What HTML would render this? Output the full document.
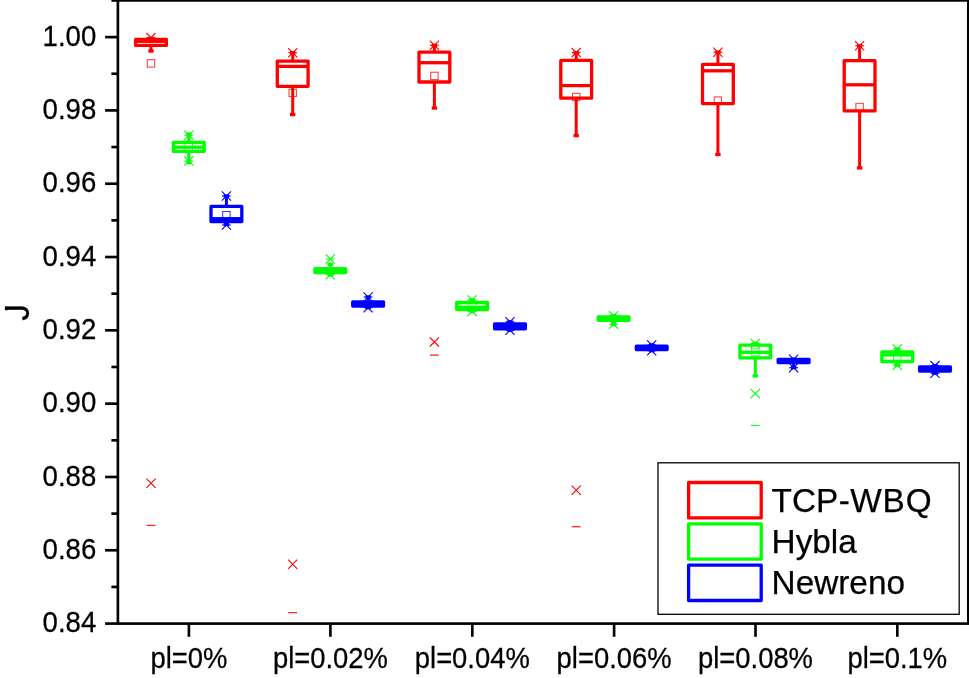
<!DOCTYPE html>
<html lang="en"><head><meta charset="utf-8"><title>J vs packet loss</title>
<style>html,body{margin:0;padding:0;background:#fff;}body{width:969px;height:678px;overflow:hidden;}svg{display:block;}text{stroke:#000;stroke-width:0.25px;font-family:"Liberation Sans",Arial,Helvetica,sans-serif;fill:#000;font-kerning:none;font-feature-settings:"kern" 0;}</style></head><body>
<svg width="969" height="678" viewBox="0 0 969 678">
<rect width="969" height="678" fill="#fff"/>
<g stroke="#ff0000" fill="none">
<line x1="151.0" y1="37.5" x2="151.0" y2="39.4" stroke-width="3"/>
<line x1="151.0" y1="45.4" x2="151.0" y2="51.0" stroke-width="3"/>
<line x1="148.3" y1="51.0" x2="153.7" y2="51.0" stroke-width="3.3"/>
<rect x="135.6" y="39.4" width="30.8" height="6.0" stroke-width="3.3" stroke-linejoin="round"/>
<line x1="135.6" y1="41.3" x2="166.4" y2="41.3" stroke-width="3.3"/>
<path d="M146.4 33.0L155.6 42.2M146.4 42.2L155.6 33.0" stroke-width="1.1"/>
<line x1="146.6" y1="37.5" x2="155.4" y2="37.5" stroke-width="1.1"/>
<path d="M146.4 478.7L155.6 487.9M146.4 487.9L155.6 478.7" stroke-width="1.1"/>
<line x1="146.6" y1="525.3" x2="155.4" y2="525.3" stroke-width="1.1"/>
<rect x="147.3" y="59.7" width="7.4" height="7.4" stroke-width="1" stroke-opacity="0.8"/>
</g>
<g stroke="#00ff00" fill="none">
<line x1="188.8" y1="134.0" x2="188.8" y2="142.3" stroke-width="3"/>
<line x1="186.10000000000002" y1="134.0" x2="191.5" y2="134.0" stroke-width="3.3"/>
<line x1="188.8" y1="151.4" x2="188.8" y2="162.5" stroke-width="3"/>
<line x1="186.10000000000002" y1="162.5" x2="191.5" y2="162.5" stroke-width="3.3"/>
<rect x="173.4" y="142.3" width="30.8" height="9.1" stroke-width="3.3" stroke-linejoin="round"/>
<line x1="173.4" y1="147.2" x2="204.2" y2="147.2" stroke-width="3.3"/>
<path d="M184.2 130.6L193.4 139.8M184.2 139.8L193.4 130.6" stroke-width="1.1"/>
<path d="M184.2 156.4L193.4 165.6M184.2 165.6L193.4 156.4" stroke-width="1.1"/>
<line x1="184.4" y1="135.2" x2="193.2" y2="135.2" stroke-width="1.1"/>
<line x1="184.4" y1="161" x2="193.2" y2="161" stroke-width="1.1"/>
<rect x="185.1" y="143.3" width="7.4" height="7.4" stroke-width="1" stroke-opacity="0.8"/>
</g>
<g stroke="#0000ff" fill="none">
<line x1="226.4" y1="196.0" x2="226.4" y2="206.4" stroke-width="3"/>
<line x1="223.70000000000002" y1="196.0" x2="229.1" y2="196.0" stroke-width="3.3"/>
<line x1="226.4" y1="221.5" x2="226.4" y2="224.5" stroke-width="3"/>
<line x1="223.70000000000002" y1="224.5" x2="229.1" y2="224.5" stroke-width="3.3"/>
<rect x="211.0" y="206.4" width="30.8" height="15.1" stroke-width="3.3" stroke-linejoin="round"/>
<line x1="211.0" y1="218.7" x2="241.8" y2="218.7" stroke-width="3.3"/>
<path d="M221.8 191.4L231.0 200.6M221.8 200.6L231.0 191.4" stroke-width="1.1"/>
<path d="M221.8 220.4L231.0 229.6M221.8 229.6L231.0 220.4" stroke-width="1.1"/>
<line x1="222.0" y1="196" x2="230.8" y2="196" stroke-width="1.1"/>
<line x1="222.0" y1="225" x2="230.8" y2="225" stroke-width="1.1"/>
<rect x="222.7" y="211.5" width="7.4" height="7.4" stroke-width="1" stroke-opacity="0.8"/>
</g>
<g stroke="#ff0000" fill="none">
<line x1="292.7" y1="52.7" x2="292.7" y2="61.1" stroke-width="3"/>
<line x1="290.0" y1="52.7" x2="295.4" y2="52.7" stroke-width="3.3"/>
<line x1="292.7" y1="86.3" x2="292.7" y2="114.5" stroke-width="3"/>
<line x1="290.0" y1="114.5" x2="295.4" y2="114.5" stroke-width="3.3"/>
<rect x="277.3" y="61.1" width="30.8" height="25.2" stroke-width="3.3" stroke-linejoin="round"/>
<line x1="277.3" y1="66.4" x2="308.1" y2="66.4" stroke-width="3.3"/>
<path d="M288.1 48.1L297.3 57.3M288.1 57.3L297.3 48.1" stroke-width="1.1"/>
<line x1="288.3" y1="52.7" x2="297.1" y2="52.7" stroke-width="1.1"/>
<path d="M288.1 559.7L297.3 568.9M288.1 568.9L297.3 559.7" stroke-width="1.1"/>
<line x1="288.3" y1="612.7" x2="297.1" y2="612.7" stroke-width="1.1"/>
<rect x="289.0" y="89.2" width="7.4" height="7.4" stroke-width="1" stroke-opacity="0.8"/>
</g>
<g stroke="#00ff00" fill="none">
<line x1="330.3" y1="264.3" x2="330.3" y2="268.7" stroke-width="3"/>
<line x1="327.6" y1="264.3" x2="333.0" y2="264.3" stroke-width="3.3"/>
<line x1="330.3" y1="272.6" x2="330.3" y2="275.0" stroke-width="3"/>
<line x1="327.6" y1="275.0" x2="333.0" y2="275.0" stroke-width="3.3"/>
<rect x="314.9" y="268.7" width="30.8" height="3.9" stroke-width="3.3" stroke-linejoin="round"/>
<line x1="314.9" y1="270.6" x2="345.7" y2="270.6" stroke-width="3.3"/>
<path d="M325.7 254.4L334.9 263.6M325.7 263.6L334.9 254.4" stroke-width="1.1"/>
<path d="M325.7 270.1L334.9 279.3M325.7 279.3L334.9 270.1" stroke-width="1.1"/>
<line x1="325.9" y1="259" x2="334.7" y2="259" stroke-width="1.1"/>
<line x1="325.9" y1="274.7" x2="334.7" y2="274.7" stroke-width="1.1"/>
</g>
<g stroke="#0000ff" fill="none">
<line x1="368.1" y1="297.0" x2="368.1" y2="301.9" stroke-width="3"/>
<line x1="365.40000000000003" y1="297.0" x2="370.8" y2="297.0" stroke-width="3.3"/>
<line x1="368.1" y1="306.1" x2="368.1" y2="307.7" stroke-width="3"/>
<line x1="365.40000000000003" y1="307.7" x2="370.8" y2="307.7" stroke-width="3.3"/>
<rect x="352.7" y="301.9" width="30.8" height="4.2" stroke-width="3.3" stroke-linejoin="round"/>
<line x1="352.7" y1="304.0" x2="383.5" y2="304.0" stroke-width="3.3"/>
<path d="M363.5 292.4L372.7 301.6M363.5 301.6L372.7 292.4" stroke-width="1.1"/>
<path d="M363.5 303.1L372.7 312.3M363.5 312.3L372.7 303.1" stroke-width="1.1"/>
<line x1="363.7" y1="297" x2="372.5" y2="297" stroke-width="1.1"/>
<line x1="363.7" y1="307.7" x2="372.5" y2="307.7" stroke-width="1.1"/>
</g>
<g stroke="#ff0000" fill="none">
<line x1="434.4" y1="45.3" x2="434.4" y2="52.2" stroke-width="3"/>
<line x1="431.7" y1="45.3" x2="437.09999999999997" y2="45.3" stroke-width="3.3"/>
<line x1="434.4" y1="82.0" x2="434.4" y2="108.0" stroke-width="3"/>
<line x1="431.7" y1="108.0" x2="437.09999999999997" y2="108.0" stroke-width="3.3"/>
<rect x="419.0" y="52.2" width="30.8" height="29.8" stroke-width="3.3" stroke-linejoin="round"/>
<line x1="419.0" y1="62.7" x2="449.8" y2="62.7" stroke-width="3.3"/>
<path d="M429.8 40.7L439.0 49.9M429.8 49.9L439.0 40.7" stroke-width="1.1"/>
<line x1="430.0" y1="45.3" x2="438.8" y2="45.3" stroke-width="1.1"/>
<path d="M429.8 337.3L439.0 346.5M429.8 346.5L439.0 337.3" stroke-width="1.1"/>
<line x1="430.0" y1="355.1" x2="438.8" y2="355.1" stroke-width="1.1"/>
<rect x="430.7" y="72.2" width="7.4" height="7.4" stroke-width="1" stroke-opacity="0.8"/>
</g>
<g stroke="#00ff00" fill="none">
<line x1="472.1" y1="299.9" x2="472.1" y2="302.5" stroke-width="3"/>
<line x1="469.40000000000003" y1="299.9" x2="474.8" y2="299.9" stroke-width="3.3"/>
<line x1="472.1" y1="309.6" x2="472.1" y2="311.4" stroke-width="3"/>
<line x1="469.40000000000003" y1="311.4" x2="474.8" y2="311.4" stroke-width="3.3"/>
<rect x="456.7" y="302.5" width="30.8" height="7.1" stroke-width="3.3" stroke-linejoin="round"/>
<line x1="456.7" y1="307.2" x2="487.5" y2="307.2" stroke-width="3.3"/>
<path d="M467.5 295.3L476.7 304.5M467.5 304.5L476.7 295.3" stroke-width="1.1"/>
<path d="M467.5 306.8L476.7 316.0M467.5 316.0L476.7 306.8" stroke-width="1.1"/>
<line x1="467.7" y1="299.9" x2="476.5" y2="299.9" stroke-width="1.1"/>
<line x1="467.7" y1="311.4" x2="476.5" y2="311.4" stroke-width="1.1"/>
</g>
<g stroke="#0000ff" fill="none">
<line x1="510.0" y1="321.8" x2="510.0" y2="323.8" stroke-width="3"/>
<line x1="507.3" y1="321.8" x2="512.7" y2="321.8" stroke-width="3.3"/>
<line x1="510.0" y1="328.8" x2="510.0" y2="330.2" stroke-width="3"/>
<line x1="507.3" y1="330.2" x2="512.7" y2="330.2" stroke-width="3.3"/>
<rect x="494.6" y="323.8" width="30.8" height="5.0" stroke-width="3.3" stroke-linejoin="round"/>
<line x1="494.6" y1="326.3" x2="525.4" y2="326.3" stroke-width="3.3"/>
<path d="M505.4 317.2L514.6 326.4M505.4 326.4L514.6 317.2" stroke-width="1.1"/>
<path d="M505.4 325.6L514.6 334.8M505.4 334.8L514.6 325.6" stroke-width="1.1"/>
<line x1="505.6" y1="321.8" x2="514.4" y2="321.8" stroke-width="1.1"/>
<line x1="505.6" y1="330.2" x2="514.4" y2="330.2" stroke-width="1.1"/>
</g>
<g stroke="#ff0000" fill="none">
<line x1="576.2" y1="52.6" x2="576.2" y2="60.4" stroke-width="3"/>
<line x1="573.5" y1="52.6" x2="578.9000000000001" y2="52.6" stroke-width="3.3"/>
<line x1="576.2" y1="98.2" x2="576.2" y2="135.6" stroke-width="3"/>
<line x1="573.5" y1="135.6" x2="578.9000000000001" y2="135.6" stroke-width="3.3"/>
<rect x="560.8" y="60.4" width="30.8" height="37.8" stroke-width="3.3" stroke-linejoin="round"/>
<line x1="560.8" y1="85.6" x2="591.6" y2="85.6" stroke-width="3.3"/>
<path d="M571.6 48.0L580.8 57.2M571.6 57.2L580.8 48.0" stroke-width="1.1"/>
<line x1="571.8" y1="52.6" x2="580.6" y2="52.6" stroke-width="1.1"/>
<path d="M571.6 485.6L580.8 494.8M571.6 494.8L580.8 485.6" stroke-width="1.1"/>
<line x1="571.8" y1="526.8" x2="580.6" y2="526.8" stroke-width="1.1"/>
<rect x="572.5" y="93.3" width="7.4" height="7.4" stroke-width="1" stroke-opacity="0.8"/>
</g>
<g stroke="#00ff00" fill="none">
<line x1="613.6" y1="315.7" x2="613.6" y2="316.8" stroke-width="3"/>
<line x1="610.9" y1="315.7" x2="616.3000000000001" y2="315.7" stroke-width="3.3"/>
<line x1="613.6" y1="320.3" x2="613.6" y2="324.3" stroke-width="3"/>
<line x1="610.9" y1="324.3" x2="616.3000000000001" y2="324.3" stroke-width="3.3"/>
<rect x="598.2" y="316.8" width="30.8" height="3.5" stroke-width="3.3" stroke-linejoin="round"/>
<line x1="598.2" y1="318.5" x2="629.0" y2="318.5" stroke-width="3.3"/>
<path d="M609.0 311.1L618.2 320.3M609.0 320.3L618.2 311.1" stroke-width="1.1"/>
<path d="M609.0 319.7L618.2 328.9M609.0 328.9L618.2 319.7" stroke-width="1.1"/>
<line x1="609.2" y1="315.7" x2="618.0" y2="315.7" stroke-width="1.1"/>
<line x1="609.2" y1="324.3" x2="618.0" y2="324.3" stroke-width="1.1"/>
</g>
<g stroke="#0000ff" fill="none">
<line x1="651.7" y1="344.9" x2="651.7" y2="346.1" stroke-width="3"/>
<line x1="649.0" y1="344.9" x2="654.4000000000001" y2="344.9" stroke-width="3.3"/>
<line x1="651.7" y1="349.5" x2="651.7" y2="350.7" stroke-width="3"/>
<line x1="649.0" y1="350.7" x2="654.4000000000001" y2="350.7" stroke-width="3.3"/>
<rect x="636.3" y="346.1" width="30.8" height="3.4" stroke-width="3.3" stroke-linejoin="round"/>
<line x1="636.3" y1="347.8" x2="667.1" y2="347.8" stroke-width="3.3"/>
<path d="M647.1 340.3L656.3 349.5M647.1 349.5L656.3 340.3" stroke-width="1.1"/>
<path d="M647.1 346.1L656.3 355.3M647.1 355.3L656.3 346.1" stroke-width="1.1"/>
<line x1="647.3" y1="344.9" x2="656.1" y2="344.9" stroke-width="1.1"/>
<line x1="647.3" y1="350.7" x2="656.1" y2="350.7" stroke-width="1.1"/>
</g>
<g stroke="#ff0000" fill="none">
<line x1="717.9" y1="52.2" x2="717.9" y2="64.4" stroke-width="3"/>
<line x1="715.1999999999999" y1="52.2" x2="720.6" y2="52.2" stroke-width="3.3"/>
<line x1="717.9" y1="103.6" x2="717.9" y2="154.5" stroke-width="3"/>
<line x1="715.1999999999999" y1="154.5" x2="720.6" y2="154.5" stroke-width="3.3"/>
<rect x="702.5" y="64.4" width="30.8" height="39.2" stroke-width="3.3" stroke-linejoin="round"/>
<line x1="702.5" y1="70.8" x2="733.3" y2="70.8" stroke-width="3.3"/>
<path d="M713.3 47.6L722.5 56.8M713.3 56.8L722.5 47.6" stroke-width="1.1"/>
<line x1="713.5" y1="52.2" x2="722.3" y2="52.2" stroke-width="1.1"/>
<rect x="714.2" y="96.9" width="7.4" height="7.4" stroke-width="1" stroke-opacity="0.8"/>
</g>
<g stroke="#00ff00" fill="none">
<line x1="755.3" y1="343.5" x2="755.3" y2="345.1" stroke-width="3"/>
<line x1="752.5999999999999" y1="343.5" x2="758.0" y2="343.5" stroke-width="3.3"/>
<line x1="755.3" y1="357.8" x2="755.3" y2="375.9" stroke-width="3"/>
<line x1="752.5999999999999" y1="375.9" x2="758.0" y2="375.9" stroke-width="3.3"/>
<rect x="739.9" y="345.1" width="30.8" height="12.7" stroke-width="3.3" stroke-linejoin="round"/>
<line x1="739.9" y1="352.3" x2="770.7" y2="352.3" stroke-width="3.3"/>
<path d="M750.7 338.9L759.9 348.1M750.7 348.1L759.9 338.9" stroke-width="1.1"/>
<line x1="750.9" y1="343.5" x2="759.7" y2="343.5" stroke-width="1.1"/>
<path d="M750.7 388.9L759.9 398.1M750.7 398.1L759.9 388.9" stroke-width="1.1"/>
<line x1="750.9" y1="425.4" x2="759.7" y2="425.4" stroke-width="1.1"/>
<rect x="751.6" y="348.3" width="7.4" height="7.4" stroke-width="1" stroke-opacity="0.8"/>
</g>
<g stroke="#0000ff" fill="none">
<line x1="793.6" y1="359.2" x2="793.6" y2="359.4" stroke-width="3"/>
<line x1="790.9" y1="359.2" x2="796.3000000000001" y2="359.2" stroke-width="3.3"/>
<line x1="793.6" y1="362.6" x2="793.6" y2="367.7" stroke-width="3"/>
<line x1="790.9" y1="367.7" x2="796.3000000000001" y2="367.7" stroke-width="3.3"/>
<rect x="778.2" y="359.4" width="30.8" height="3.2" stroke-width="3.3" stroke-linejoin="round"/>
<line x1="778.2" y1="361.0" x2="809.0" y2="361.0" stroke-width="3.3"/>
<path d="M789.0 354.6L798.2 363.8M789.0 363.8L798.2 354.6" stroke-width="1.1"/>
<path d="M789.0 363.1L798.2 372.3M789.0 372.3L798.2 363.1" stroke-width="1.1"/>
<line x1="789.2" y1="359.2" x2="798.0" y2="359.2" stroke-width="1.1"/>
<line x1="789.2" y1="367.7" x2="798.0" y2="367.7" stroke-width="1.1"/>
</g>
<g stroke="#ff0000" fill="none">
<line x1="859.6" y1="45.8" x2="859.6" y2="60.7" stroke-width="3"/>
<line x1="856.9" y1="45.8" x2="862.3000000000001" y2="45.8" stroke-width="3.3"/>
<line x1="859.6" y1="110.9" x2="859.6" y2="167.9" stroke-width="3"/>
<line x1="856.9" y1="167.9" x2="862.3000000000001" y2="167.9" stroke-width="3.3"/>
<rect x="844.2" y="60.7" width="30.8" height="50.2" stroke-width="3.3" stroke-linejoin="round"/>
<line x1="844.2" y1="84.8" x2="875.0" y2="84.8" stroke-width="3.3"/>
<path d="M855.0 41.2L864.2 50.4M855.0 50.4L864.2 41.2" stroke-width="1.1"/>
<line x1="855.2" y1="45.8" x2="864.0" y2="45.8" stroke-width="1.1"/>
<rect x="855.9" y="103.3" width="7.4" height="7.4" stroke-width="1" stroke-opacity="0.8"/>
</g>
<g stroke="#00ff00" fill="none">
<line x1="897.3" y1="349.0" x2="897.3" y2="351.8" stroke-width="3"/>
<line x1="894.5999999999999" y1="349.0" x2="900.0" y2="349.0" stroke-width="3.3"/>
<line x1="897.3" y1="361.5" x2="897.3" y2="365.2" stroke-width="3"/>
<line x1="894.5999999999999" y1="365.2" x2="900.0" y2="365.2" stroke-width="3.3"/>
<rect x="881.9" y="351.8" width="30.8" height="9.7" stroke-width="3.3" stroke-linejoin="round"/>
<line x1="881.9" y1="354.9" x2="912.7" y2="354.9" stroke-width="3.3"/>
<path d="M892.7 344.4L901.9 353.6M892.7 353.6L901.9 344.4" stroke-width="1.1"/>
<path d="M892.7 360.6L901.9 369.8M892.7 369.8L901.9 360.6" stroke-width="1.1"/>
<line x1="892.9" y1="349" x2="901.7" y2="349" stroke-width="1.1"/>
<line x1="892.9" y1="365.2" x2="901.7" y2="365.2" stroke-width="1.1"/>
<rect x="893.6" y="353.3" width="7.4" height="7.4" stroke-width="1" stroke-opacity="0.8"/>
</g>
<g stroke="#0000ff" fill="none">
<line x1="935.0" y1="365.6" x2="935.0" y2="366.8" stroke-width="3"/>
<line x1="932.3" y1="365.6" x2="937.7" y2="365.6" stroke-width="3.3"/>
<line x1="935.0" y1="371.1" x2="935.0" y2="373.3" stroke-width="3"/>
<line x1="932.3" y1="373.3" x2="937.7" y2="373.3" stroke-width="3.3"/>
<rect x="919.6" y="366.8" width="30.8" height="4.3" stroke-width="3.3" stroke-linejoin="round"/>
<line x1="919.6" y1="369.0" x2="950.4" y2="369.0" stroke-width="3.3"/>
<path d="M930.4 361.0L939.6 370.2M930.4 370.2L939.6 361.0" stroke-width="1.1"/>
<path d="M930.4 368.7L939.6 377.9M930.4 377.9L939.6 368.7" stroke-width="1.1"/>
<line x1="930.6" y1="365.6" x2="939.4" y2="365.6" stroke-width="1.1"/>
<line x1="930.6" y1="373.3" x2="939.4" y2="373.3" stroke-width="1.1"/>
</g>
<g stroke="#000" stroke-width="2.65" fill="none" stroke-linecap="butt">
<rect x="117.9" y="0.4" width="850.4" height="623.2"/>
<line x1="111.4" y1="0.44" x2="117.9" y2="0.44"/>
<line x1="105.1" y1="37.10" x2="117.9" y2="37.10"/>
<line x1="111.4" y1="73.76" x2="117.9" y2="73.76"/>
<line x1="105.1" y1="110.41" x2="117.9" y2="110.41"/>
<line x1="111.4" y1="147.07" x2="117.9" y2="147.07"/>
<line x1="105.1" y1="183.72" x2="117.9" y2="183.72"/>
<line x1="111.4" y1="220.38" x2="117.9" y2="220.38"/>
<line x1="105.1" y1="257.03" x2="117.9" y2="257.03"/>
<line x1="111.4" y1="293.68" x2="117.9" y2="293.68"/>
<line x1="105.1" y1="330.34" x2="117.9" y2="330.34"/>
<line x1="111.4" y1="366.99" x2="117.9" y2="366.99"/>
<line x1="105.1" y1="403.65" x2="117.9" y2="403.65"/>
<line x1="111.4" y1="440.30" x2="117.9" y2="440.30"/>
<line x1="105.1" y1="476.96" x2="117.9" y2="476.96"/>
<line x1="111.4" y1="513.62" x2="117.9" y2="513.62"/>
<line x1="105.1" y1="550.27" x2="117.9" y2="550.27"/>
<line x1="111.4" y1="586.93" x2="117.9" y2="586.93"/>
<line x1="105.1" y1="623.58" x2="117.9" y2="623.58"/>
<line x1="188.9" y1="623.6" x2="188.9" y2="636.8"/>
<line x1="330.4" y1="623.6" x2="330.4" y2="636.8"/>
<line x1="472.3" y1="623.6" x2="472.3" y2="636.8"/>
<line x1="614.1" y1="623.6" x2="614.1" y2="636.8"/>
<line x1="755.5" y1="623.6" x2="755.5" y2="636.8"/>
<line x1="897.3" y1="623.6" x2="897.3" y2="636.8"/>
</g>
<g font-size="27.6px" text-anchor="end">
<text transform="translate(96.3 45.8) scale(1 1.065)">1.00</text>
<text transform="translate(96.3 119.1) scale(1 1.065)">0.98</text>
<text transform="translate(96.3 192.4) scale(1 1.065)">0.96</text>
<text transform="translate(96.3 265.7) scale(1 1.065)">0.94</text>
<text transform="translate(96.3 339.0) scale(1 1.065)">0.92</text>
<text transform="translate(96.3 412.3) scale(1 1.065)">0.90</text>
<text transform="translate(96.3 485.7) scale(1 1.065)">0.88</text>
<text transform="translate(96.3 559.0) scale(1 1.065)">0.86</text>
<text transform="translate(96.3 632.3) scale(1 1.065)">0.84</text>
</g>
<g font-size="27.4px" text-anchor="middle">
<text transform="translate(188.9 668) scale(1 1.05)">pl=0%</text>
<text transform="translate(330.4 668) scale(1 1.05)">pl=0.02%</text>
<text transform="translate(472.3 668) scale(1 1.05)">pl=0.04%</text>
<text transform="translate(614.1 668) scale(1 1.05)">pl=0.06%</text>
<text transform="translate(755.5 668) scale(1 1.05)">pl=0.08%</text>
<text transform="translate(897.3 668) scale(1 1.05)">pl=0.1%</text>
</g>
<text font-size="33.33px" text-anchor="middle" transform="translate(28.7 312.4) rotate(-90) scale(1 1.035)">J</text>
<rect x="3" y="310.2" width="7.5" height="6" fill="#fff"/>
<rect x="658" y="462.8" width="301.2" height="151.5" fill="#fff" stroke="#000" stroke-width="1.3"/>
<rect x="688.6" y="482.5" width="72.6" height="35.4" fill="none" stroke="#ff0000" stroke-width="3.3" stroke-linejoin="round"/>
<text x="771.6" y="511.7" dx="0 0 0 0.6 0.15 0.85 1.1" font-size="33.33px">TCP-WBQ</text>
<rect x="688.6" y="523.8" width="72.6" height="35.4" fill="none" stroke="#00ff00" stroke-width="3.3" stroke-linejoin="round"/>
<text x="771.6" y="553.0" font-size="33.33px">Hybla</text>
<rect x="688.6" y="565.1" width="72.6" height="35.4" fill="none" stroke="#0000ff" stroke-width="3.3" stroke-linejoin="round"/>
<text x="771.6" y="594.3" font-size="33.33px">Newreno</text>
</svg></body></html>
